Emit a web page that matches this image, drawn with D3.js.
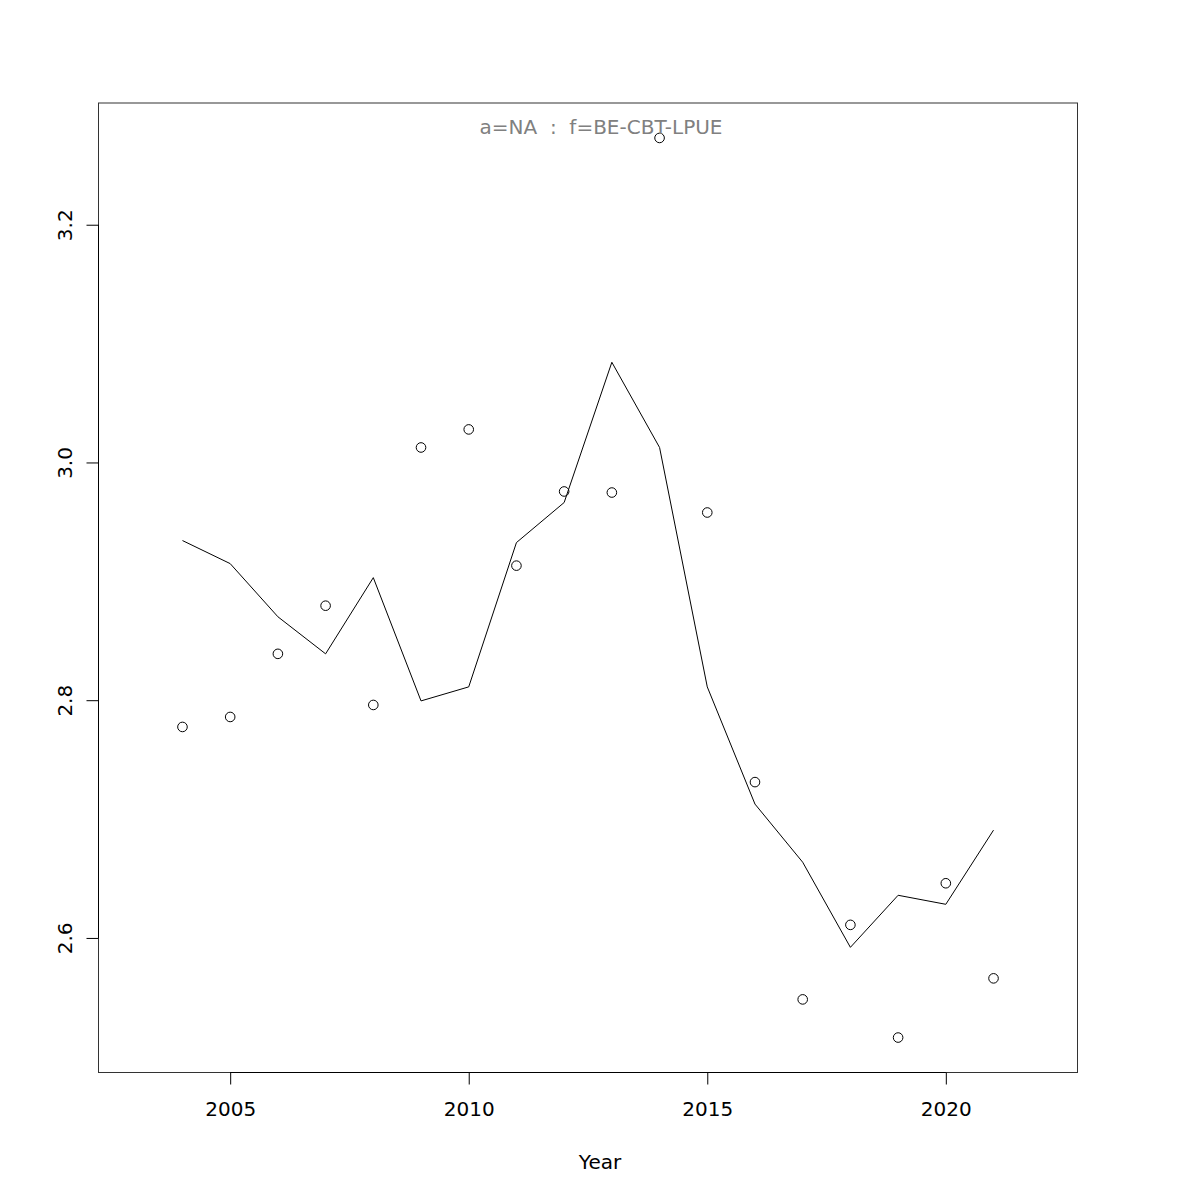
<!DOCTYPE html>
<html><head><meta charset="utf-8">
<script src="https://cdn.jsdelivr.net/npm/d3@7"></script>
<style>body{margin:0;background:#fff}svg{display:block}text{font-family:"DejaVu Sans",sans-serif;white-space:pre}</style>
</head><body>
<script>
const years = [2004,2005,2006,2007,2008,2009,2010,2011,2012,2013,2014,2015,2016,2017,2018,2019,2020,2021];
const observed = [2.7775,2.7859,2.839,2.8795,2.796,3.0126,3.0278,2.9132,2.9756,2.9747,3.273,2.9579,2.7311,2.5483,2.611,2.5162,2.646,2.566];
const fitted = [2.9343,2.9149,2.8702,2.839,2.9031,2.7994,2.8112,2.9326,2.9663,3.0843,3.0126,2.8112,2.7126,2.6637,2.5921,2.6359,2.6283,2.6907];
const xTicks = [2005,2010,2015,2020];
const yTicks = [2.6,2.8,3.0,3.2];
const title = "a=NA  :  f=BE-CBT-LPUE";
const xLabel = "Year";

const W=1200,H=1200;
const L=98.5,R=1077.5,T=103,B=1072.5;
const svg=d3.select("body").append("svg").attr("width",W).attr("height",H);
const x=d3.scaleLinear().domain([2002.24,2022.76]).range([L,R]);
const y=d3.scaleLinear().domain([2.4868,3.3024]).range([B,T]);

svg.append("rect").attr("x",L).attr("y",T).attr("width",R-L).attr("height",B-T)
  .attr("fill","none").attr("stroke","#333").attr("stroke-width",1);

const xa=svg.append("g").attr("transform",`translate(0,${B})`)
  .call(d3.axisBottom(x).tickValues(xTicks).tickFormat(d3.format("d")).tickSize(12).tickPadding(17).tickSizeOuter(0));
xa.select(".domain").attr("d",`M${x(xTicks[0])},0H${x(xTicks[xTicks.length-1])}`).attr("stroke","#000");
xa.selectAll("text").attr("font-size",20).attr("fill","#000").style("font-family","DejaVu Sans");

const ya=svg.append("g").attr("transform",`translate(${L},0)`)
  .call(d3.axisLeft(y).tickValues(yTicks).tickFormat(d3.format(".1f")).tickSize(12).tickSizeOuter(0));
ya.select(".domain").attr("d",`M0,${y(yTicks[0])}V${y(yTicks[yTicks.length-1])}`).attr("stroke","#000");
ya.selectAll(".tick text").attr("font-size",20).attr("fill","#000").style("font-family","DejaVu Sans")
  .attr("text-anchor","middle").attr("x",0).attr("dy",0)
  .attr("transform","translate(-27,0) rotate(-90)");

svg.append("path").datum(years.map((d,i)=>[d,fitted[i]]))
  .attr("d",d3.line().x(d=>x(d[0])).y(d=>y(d[1])))
  .attr("fill","none").attr("stroke","#000").attr("stroke-width",1);

svg.selectAll("circle.pt").data(years).enter().append("circle")
  .attr("cx",d=>x(d)).attr("cy",(d,i)=>y(observed[i])).attr("r",4.8)
  .attr("fill","none").attr("stroke","#000").attr("stroke-width",1);

svg.append("text").attr("x",601).attr("y",134).attr("text-anchor","middle")
  .attr("font-size",20).attr("fill","#808080").attr("xml:space","preserve").text(title);
svg.append("text").attr("x",600).attr("y",1169).attr("text-anchor","middle")
  .attr("font-size",20).attr("fill","#000").text(xLabel);
</script>
</body></html>
